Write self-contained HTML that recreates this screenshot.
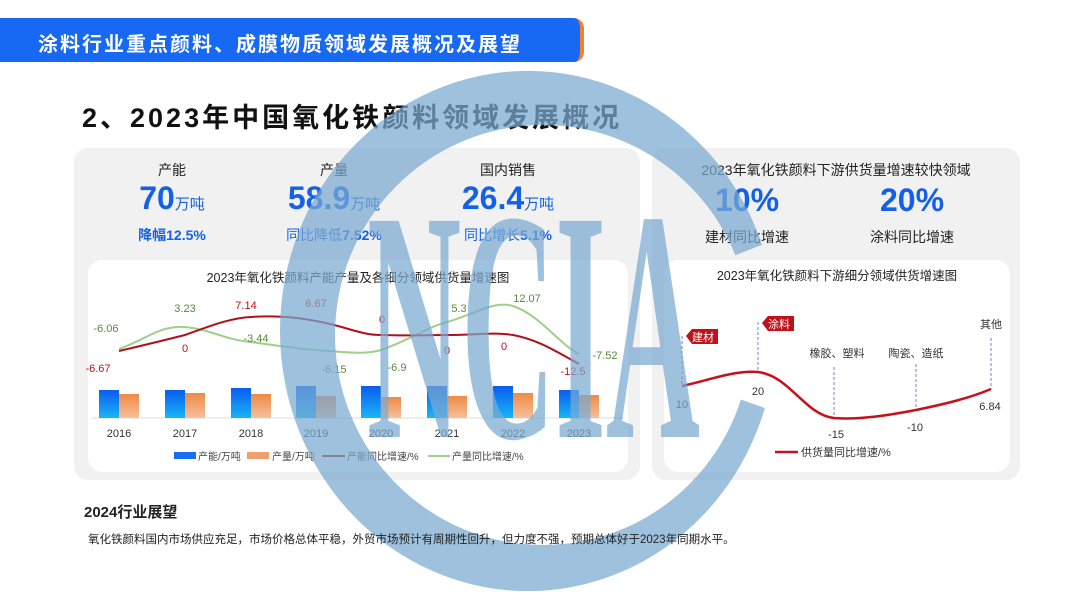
<!DOCTYPE html>
<html><head><meta charset="utf-8"><style>
*{margin:0;padding:0;box-sizing:border-box}
body{width:1080px;height:607px;overflow:hidden;background:#fff;position:relative;font-family:"Liberation Sans","Noto Sans CJK SC",sans-serif;color:#222}
.abs{position:absolute}
.c{text-align:center;white-space:nowrap}
.card{position:absolute;background:#f1f1f1;border-radius:14px}
.inner{position:absolute;background:#fff;border-radius:14px}
.big{color:#1460e8;font-weight:bold;font-size:32px}
.big small{font-size:15px;font-weight:normal}
.sub{color:#1460e8;font-size:14px}
.sub b{font-weight:bold}
</style></head><body>
<div class="abs" style="left:0;top:18px;width:584px;height:44px;background:#1768f3;border-right:4px solid #f08030;border-radius:0 10px 10px 0"></div>
<div class="abs" style="left:38px;top:28px;color:#fff;font-weight:bold;font-size:20px;letter-spacing:2px">涂料行业重点颜料、成膜物质领域发展概况及展望</div>
<div class="abs" style="left:82px;top:96px;font-weight:bold;font-size:27px;letter-spacing:3px;color:#111">2、2023年中国氧化铁颜料领域发展概况</div>

<div class="card" style="left:74px;top:148px;width:566px;height:332px"></div>
<div class="card" style="left:652px;top:148px;width:368px;height:332px"></div>

<div class="abs c" style="left:122px;top:160px;width:100px;font-size:14px">产能</div>
<div class="abs c big" style="left:102px;top:180px;width:140px">70<small>万吨</small></div>
<div class="abs c sub" style="left:102px;top:225px;width:140px"><b>降幅12.5%</b></div>
<div class="abs c" style="left:284px;top:160px;width:100px;font-size:14px">产量</div>
<div class="abs c big" style="left:264px;top:180px;width:140px">58.9<small>万吨</small></div>
<div class="abs c sub" style="left:254px;top:225px;width:160px">同比降低<b>7.52%</b></div>
<div class="abs c" style="left:458px;top:160px;width:100px;font-size:14px">国内销售</div>
<div class="abs c big" style="left:438px;top:180px;width:140px">26.4<small>万吨</small></div>
<div class="abs c sub" style="left:428px;top:225px;width:160px">同比增长<b>5.1%</b></div>

<div class="abs c" style="left:656px;top:160px;width:360px;font-size:14px">2023年氧化铁颜料下游供货量增速较快领域</div>
<div class="abs c big" style="left:687px;top:182px;width:120px;font-size:32px">10%</div>
<div class="abs c" style="left:687px;top:227px;width:120px;font-size:14px">建材同比增速</div>
<div class="abs c big" style="left:852px;top:182px;width:120px;font-size:32px">20%</div>
<div class="abs c" style="left:852px;top:227px;width:120px;font-size:14px">涂料同比增速</div>

<div class="inner" style="left:88px;top:260px;width:540px;height:212px"></div>
<div class="inner" style="left:664px;top:260px;width:346px;height:212px"></div>

<svg class="abs" style="left:0;top:0" width="1080" height="607" font-family="Liberation Sans, Noto Sans CJK SC, sans-serif">
<defs>
<linearGradient id="gb" x1="0" y1="0" x2="0" y2="1"><stop offset="0" stop-color="#0a5cf0"/><stop offset="1" stop-color="#18b6f6"/></linearGradient>
<linearGradient id="go" x1="0" y1="0" x2="0" y2="1"><stop offset="0" stop-color="#ef8a45"/><stop offset="1" stop-color="#f6c09a"/></linearGradient>
<clipPath id="cc"><polygon points="0,0 1080,0 1080,120 545,330 1080,520 1080,607 0,607"/></clipPath>
</defs>
<text x="358" y="282" text-anchor="middle" font-size="12.5" fill="#222">2023年氧化铁颜料产能产量及各细分领域供货量增速图</text>
<line x1="92" y1="418" x2="624" y2="418" stroke="#ddd"/>
<g>
<rect x="99" y="390" width="20" height="28" fill="url(#gb)"/><rect x="119" y="394" width="20" height="24" fill="url(#go)"/>
<rect x="165" y="390" width="20" height="28" fill="url(#gb)"/><rect x="185" y="393" width="20" height="25" fill="url(#go)"/>
<rect x="231" y="388" width="20" height="30" fill="url(#gb)"/><rect x="251" y="394" width="20" height="24" fill="url(#go)"/>
<rect x="296" y="386" width="20" height="32" fill="url(#gb)"/><rect x="316" y="396" width="20" height="22" fill="url(#go)"/>
<rect x="361" y="386" width="20" height="32" fill="url(#gb)"/><rect x="381" y="397" width="20" height="21" fill="url(#go)"/>
<rect x="427" y="386" width="20" height="32" fill="url(#gb)"/><rect x="447" y="396" width="20" height="22" fill="url(#go)"/>
<rect x="493" y="386" width="20" height="32" fill="url(#gb)"/><rect x="513" y="393" width="20" height="25" fill="url(#go)"/>
<rect x="559" y="390" width="20" height="28" fill="url(#gb)"/><rect x="579" y="395" width="20" height="23" fill="url(#go)"/>
</g>
<g font-size="11" fill="#333" text-anchor="middle">
<text x="119" y="437">2016</text><text x="185" y="437">2017</text><text x="251" y="437">2018</text><text x="316" y="437">2019</text><text x="381" y="437">2020</text><text x="447" y="437">2021</text><text x="513" y="437">2022</text><text x="579" y="437">2023</text>
</g>
<path d="M119,349 C145,340 160,325 185,327 C210,329 225,340 251,342 C280,346 300,349 316,350 C345,352 365,355 381,350 C410,340 425,328 447,322 C475,314 495,300 513,306 C540,315 560,345 579,354" fill="none" stroke="#9fd08a" stroke-width="2"/>
<path d="M119,351 C145,345 165,340 185,335 C210,326 230,318 251,317 C280,315 300,318 316,321 C345,326 360,335 381,335 C410,336 425,335 447,335 C475,335 495,332 513,335 C540,340 560,354 579,364" fill="none" stroke="#b0101a" stroke-width="2"/>
<g font-size="11" fill="#5a8a3a" text-anchor="middle">
<text x="106" y="332">-6.06</text><text x="185" y="312">3.23</text><text x="256" y="342">-3.44</text><text x="334" y="373">-6.15</text><text x="397" y="371">-6.9</text><text x="459" y="312">5.3</text><text x="527" y="302">12.07</text><text x="605" y="359">-7.52</text>
</g>
<g font-size="11" fill="#c0101c" text-anchor="middle">
<text x="98" y="372">-6.67</text><text x="185" y="352">0</text><text x="246" y="309">7.14</text><text x="316" y="307">6.67</text><text x="382" y="323">0</text><text x="447" y="354">0</text><text x="504" y="350">0</text><text x="573" y="375">-12.5</text>
</g>
<g font-size="10" fill="#444">
<rect x="174" y="452" width="22" height="7" fill="#1a6cf3"/><text x="198" y="460">产能/万吨</text>
<rect x="247" y="452" width="22" height="7" fill="#f0a070"/><text x="272" y="460">产量/万吨</text>
<line x1="322" y1="456" x2="345" y2="456" stroke="#b0101a" stroke-width="2"/><text x="347" y="460">产能同比增速/%</text>
<line x1="428" y1="456" x2="450" y2="456" stroke="#9fd08a" stroke-width="2"/><text x="452" y="460">产量同比增速/%</text>
</g>

<text x="837" y="280" text-anchor="middle" font-size="12.5" fill="#222">2023年氧化铁颜料下游细分领域供货增速图</text>
<g stroke="#6a86c8" stroke-dasharray="3,2" stroke-width="1">
<line x1="682" y1="336" x2="682" y2="386"/><line x1="758" y1="322" x2="758" y2="372"/><line x1="834" y1="367" x2="834" y2="417"/><line x1="916" y1="364" x2="916" y2="409"/><line x1="991" y1="338" x2="991" y2="389"/>
</g>
<path d="M682,386 C710,380 735,370 758,372 C790,376 805,415 834,418 C860,420 890,415 916,410 C945,404 970,398 991,389" fill="none" stroke="#c8101c" stroke-width="2.5"/>
<path d="M686,336 L692,329 L718,329 L718,344 L692,344 Z" fill="#c0101a"/><text x="692" y="341" font-size="11" fill="#fff">建材</text>
<path d="M762,323 L768,316 L794,316 L794,331 L768,331 Z" fill="#c0101a"/><text x="768" y="328" font-size="11" fill="#fff">涂料</text>
<g font-size="11" fill="#333" text-anchor="middle">
<text x="837" y="357">橡胶、塑料</text><text x="916" y="357">陶瓷、造纸</text><text x="991" y="328">其他</text>
<text x="682" y="408">10</text><text x="758" y="395">20</text><text x="836" y="438">-15</text><text x="915" y="431">-10</text><text x="990" y="410">6.84</text>
</g>
<line x1="775" y1="452" x2="798" y2="452" stroke="#c8101c" stroke-width="2.5"/><text x="801" y="456" font-size="11" fill="#333">供货量同比增速/%</text>

<g opacity="0.72" fill="#7aaad2">
<path clip-path="url(#cc)" fill-rule="evenodd" d="M280,331 A248,260 0 1,0 776,331 A248,260 0 1,0 280,331 Z M335,335 A208,210 0 1,0 751,335 A208,210 0 1,0 335,335 Z"/>
<text x="367" y="437" font-family="Liberation Serif, serif" font-weight="bold" font-size="330" textLength="333" lengthAdjust="spacingAndGlyphs">NCIA</text>
</g>
</svg>

<div class="abs" style="left:84px;top:501px;font-weight:bold;font-size:15px">2024行业展望</div>
<div class="abs" style="left:88px;top:531px;font-size:11.5px">氧化铁颜料国内市场供应充足，市场价格总体平稳，外贸市场预计有周期性回升，但力度不强，预期总体好于2023年同期水平。</div>
</body></html>
